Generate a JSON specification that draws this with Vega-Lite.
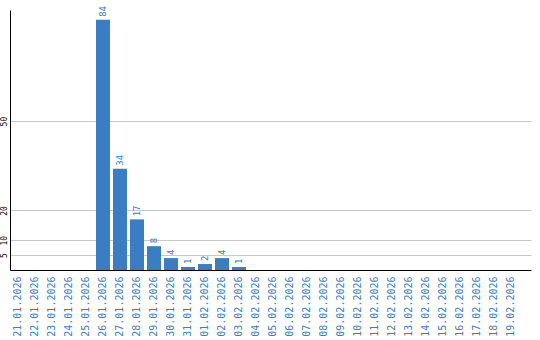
{
  "$schema": "https://vega.github.io/schema/vega-lite/v6.json",
  "width": 521,
  "height": 260,
  "autosize": "none",
  "padding": {"left": 10, "top": 10, "right": 9, "bottom": 70},
  "background": "white",
  "config": {"view": {"stroke": null}},
  "data": {
    "values": [
      {"date": "21.01.2026", "v": 0},
      {"date": "22.01.2026", "v": 0},
      {"date": "23.01.2026", "v": 0},
      {"date": "24.01.2026", "v": 0},
      {"date": "25.01.2026", "v": 0},
      {"date": "26.01.2026", "v": 84},
      {"date": "27.01.2026", "v": 34},
      {"date": "28.01.2026", "v": 17},
      {"date": "29.01.2026", "v": 8},
      {"date": "30.01.2026", "v": 4},
      {"date": "31.01.2026", "v": 1},
      {"date": "01.02.2026", "v": 2},
      {"date": "02.02.2026", "v": 4},
      {"date": "03.02.2026", "v": 1},
      {"date": "04.02.2026", "v": 0},
      {"date": "05.02.2026", "v": 0},
      {"date": "06.02.2026", "v": 0},
      {"date": "07.02.2026", "v": 0},
      {"date": "08.02.2026", "v": 0},
      {"date": "09.02.2026", "v": 0},
      {"date": "10.02.2026", "v": 0},
      {"date": "11.02.2026", "v": 0},
      {"date": "12.02.2026", "v": 0},
      {"date": "13.02.2026", "v": 0},
      {"date": "14.02.2026", "v": 0},
      {"date": "15.02.2026", "v": 0},
      {"date": "16.02.2026", "v": 0},
      {"date": "17.02.2026", "v": 0},
      {"date": "18.02.2026", "v": 0},
      {"date": "19.02.2026", "v": 0}
    ]
  },
  "encoding": {
    "x": {
      "field": "date",
      "type": "ordinal",
      "sort": null,
      "title": null,
      "scale": {"paddingInner": 0.176, "paddingOuter": 0.41, "align": 0.07},
      "axis": {
        "labelAngle": -90,
        "labelColor": "#3a7dc3",
        "labelFont": "DejaVu Sans Mono",
        "labelFontSize": 10,
        "labelPadding": 6,
        "ticks": false,
        "domainColor": "black",
        "domainWidth": 1,
        "grid": false
      }
    },
    "y": {
      "field": "v",
      "type": "quantitative",
      "title": null,
      "scale": {"domain": [0, 87.3], "nice": false},
      "axis": {
        "values": [5, 10, 20, 50],
        "labelAngle": -90,
        "labelAlign": "center",
        "labelBaseline": "bottom",
        "labelFont": "DejaVu Sans Mono",
        "labelFontSize": 8,
        "labelColor": "black",
        "labelPadding": 2,
        "ticks": false,
        "domainColor": "black",
        "grid": true,
        "gridColor": "#c8c8c8",
        "gridOpacity": 1
      }
    }
  },
  "layer": [
    {"mark": {"type": "bar", "color": "#3a7dc3"}},
    {
      "transform": [{"filter": "datum.v > 0"}],
      "mark": {
        "type": "text",
        "angle": 270,
        "align": "left",
        "baseline": "middle",
        "dx": 3,
        "font": "DejaVu Sans Mono",
        "fontSize": 9,
        "color": "#3a7dc3"
      },
      "encoding": {"text": {"field": "v", "type": "quantitative"}}
    }
  ]
}
